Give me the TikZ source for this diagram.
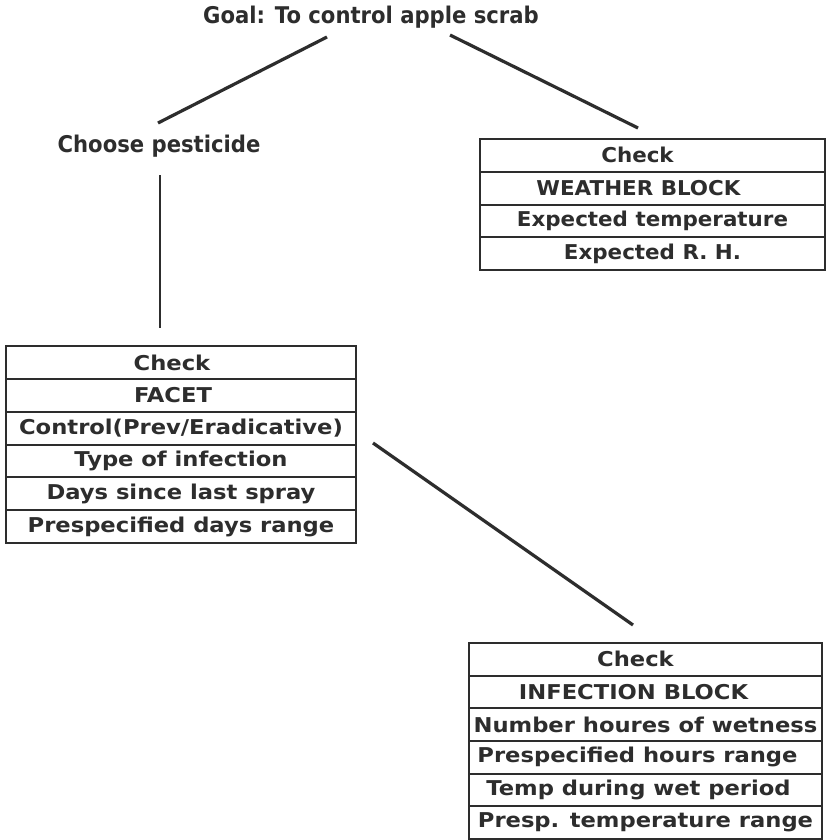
\documentclass[tikz,border=0pt]{standalone}
\usepackage{fontspec}
\setmainfont{DejaVu Sans}
\newfontfamily\goalfont{DejaVu Sans}[FakeStretch=0.92]
\newfontfamily\wfont{DejaVu Sans}[FakeStretch=1.05]
\newfontfamily\ffont{DejaVu Sans}[FakeStretch=1.11]
\definecolor{ink}{RGB}{45,45,45}
\tikzset{
  toptext/.style={inner sep=0pt, text=ink, font=\goalfont\bfseries\fontsize{23bp}{26bp}\selectfont},
  rowbase/.style={draw=ink, line width=2bp, inner sep=0pt, anchor=north west, text=ink},
  wrow/.style={rowbase, minimum width=345bp, minimum height=32.75bp, font=\wfont\bfseries\fontsize{20.4bp}{24bp}\selectfont},
  frow/.style={rowbase, minimum width=350bp, minimum height=32.83bp, font=\ffont\bfseries\fontsize{20.4bp}{24bp}\selectfont},
  irow/.style={rowbase, minimum width=353bp, minimum height=32.67bp, font=\ffont\bfseries\fontsize{20.4bp}{24bp}\selectfont},
  link/.style={draw=ink, line width=3.2bp},
  vlink/.style={draw=ink, line width=2.4bp}
}
\begin{document}
\begin{tikzpicture}[x=1bp,y=-1bp]
\useasboundingbox (0,0) rectangle (827,840);
\fill[white] (0,0) rectangle (827,840);
% top texts
\node[toptext] (goal) at (371,17) {Goal: To control apple scrab};
\node[toptext] (choose) at (159,146) {Choose pesticide};
% weather block
\node[wrow] (w1) at (479,138) {\hspace*{-30bp}Check};
\node[wrow] (w2) at (479,170.75) {\hspace*{-28bp}WEATHER BLOCK};
\node[wrow] (w3) at (479,203.5) {Expected temperature};
\node[wrow] (w4) at (479,236.25) {Expected R. H.};
% facet block
\node[frow] (f1) at (5,345) {\hspace*{-18bp}Check};
\node[frow] (f2) at (5,377.83) {\hspace*{-16bp}FACET};
\node[frow] (f3) at (5,410.67) {Control(Prev/Eradicative)};
\node[frow] (f4) at (5,443.5) {Type of infection};
\node[frow] (f5) at (5,476.33) {Days since last spray};
\node[frow] (f6) at (5,509.17) {Prespecified days range};
% infection block
\node[irow] (i1) at (468,642) {\hspace*{-20bp}Check};
\node[irow] (i2) at (468,674.67) {\hspace*{-24bp}INFECTION BLOCK};
\node[irow] (i3) at (468,707.33) {Number houres of wetness};
\node[irow] (i4) at (468,740) {\hspace*{-16bp}Prespecified hours range};
\node[irow] (i5) at (468,772.67) {\hspace*{-14bp}Temp during wet period};
\node[irow] (i6) at (468,805.33) {Presp. temperature range};
% connector end points
\coordinate (gl) at (327,37);
\coordinate (cl) at (158,123);
\coordinate (gr) at (450,35);
\coordinate (wt) at (638,128);
\coordinate (cb) at (160,175);
\coordinate (ft) at (160,328);
\coordinate (fr) at (373,443);
\coordinate (it) at (633,625);
\draw[link] (gl) -- (cl);
\draw[link] (gr) -- (wt);
\draw[vlink] (cb) -- (ft);
\draw[link] (fr) -- (it);
\end{tikzpicture}
\end{document}
